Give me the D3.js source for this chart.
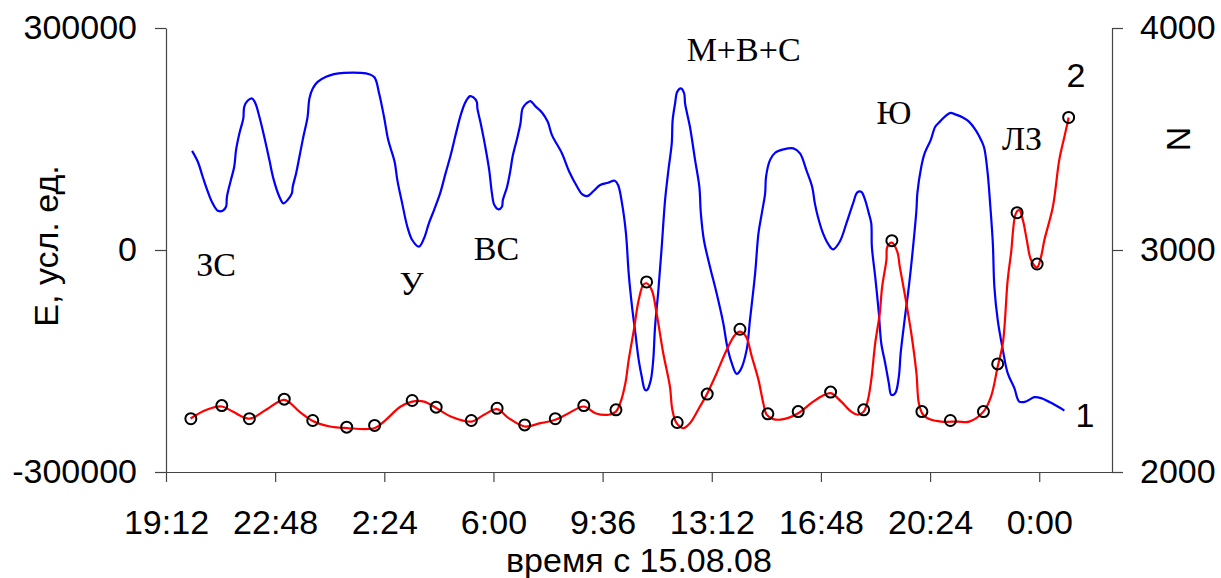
<!DOCTYPE html>
<html>
<head>
<meta charset="utf-8">
<script src="https://d3js.org/d3.v7.min.js"></script>
<style>
  body { margin: 0; background: #fff; }
</style>
</head>
<body>
<script>
// time = hours from 15.08.08 0:00

// curve 1 : E, conv. units (left axis)
var curveE = [
  [20.06,134000],[20.25,119200],[20.41,99000],[20.58,78700],[20.74,63000],[20.91,53100],
  [21.07,53100],[21.18,58500],[21.21,72000],[21.34,94500],[21.45,112500],[21.51,135000],
  [21.62,157500],[21.75,177800],[21.78,193500],[21.89,201600],[22.04,204800],[22.15,198000],
  [22.28,180000],[22.44,153000],[22.61,121500],[22.74,96800],[22.94,72000],[23.07,63000],
  [23.21,67500],[23.35,76500],[23.38,85500],[23.49,103500],[23.60,126000],[23.73,153000],
  [23.87,180000],[23.93,204800],[24.04,218300],[24.20,227200],[24.48,234000],[24.74,237600],
  [25.07,239400],[25.62,239400],[25.90,237600],[26.08,233100],[26.23,211500],[26.39,180000],
  [26.53,148500],[26.74,119200],[26.83,94500],[26.99,63000],[27.16,31500],[27.32,13500],
  [27.54,4500],[27.71,15800],[27.87,36000],[28.04,54000],[28.24,76500],[28.42,103500],
  [28.59,128300],[28.75,155300],[28.92,182300],[29.08,200200],[29.23,207900],[29.34,206100],
  [29.45,200200],[29.47,191300],[29.58,171000],[29.69,148500],[29.73,139500],[29.86,108000],
  [29.95,76500],[30.03,60800],[30.17,54900],[30.28,58500],[30.31,67500],[30.45,85500],
  [30.56,108000],[30.63,126000],[30.78,150800],[30.89,171000],[30.96,191300],[31.08,198000],
  [31.22,201200],[31.38,194400],[31.60,185900],[31.79,173200],[31.93,155300],[32.26,130500],
  [32.50,105700],[32.76,85500],[32.92,75600],[33.09,72900],[33.31,80100],[33.52,87800],
  [33.78,90900],[34.00,93600],[34.11,87800],[34.24,63000],[34.37,22500],[34.46,-31500],
  [34.57,-76500],[34.68,-112500],[34.79,-148500],[34.89,-171000],[35.00,-189000],[35.07,-189000],
  [35.19,-175500],[35.27,-148500],[35.33,-103500],[35.44,-54000],[35.55,4500],[35.66,67500],
  [35.77,108000],[35.88,144000],[35.91,175500],[35.99,198000],[36.06,213700],[36.18,218300],
  [36.29,211500],[36.32,198000],[36.48,166500],[36.65,121500],[36.79,85500],[36.84,49500],
  [36.94,13500],[37.14,-22500],[37.36,-58500],[37.58,-99000],[37.71,-130500],[37.86,-153000],
  [38.02,-167400],[38.15,-162000],[38.35,-135000],[38.46,-94500],[38.63,-31500],[38.74,22500],
  [38.85,49500],[38.96,76500],[38.99,99000],[39.12,121500],[39.29,131400],[39.56,135900],
  [39.89,137300],[40.11,130500],[40.32,108000],[40.51,85500],[40.60,63000],[40.70,45000],
  [40.87,22500],[41.06,6800],[41.20,900],[41.42,11200],[41.64,36000],[41.86,63000],
  [42.00,77900],[42.13,78700],[42.24,69800],[42.38,49500],[42.46,36000],[42.48,4500],
  [42.59,-36000],[42.71,-85500],[42.79,-126000],[42.92,-153000],[43.04,-180000],[43.12,-195800],
  [43.25,-193500],[43.37,-171000],[43.43,-139500],[43.56,-94500],[43.70,-49500],[43.84,4500],
  [43.95,54000],[43.98,76500],[44.11,112500],[44.22,130500],[44.42,148500],[44.57,166500],
  [44.72,173200],[44.88,180000],[45.08,185400],[45.21,183600],[45.48,179100],[45.69,173200],
  [45.92,161100],[46.11,146200],[46.19,137300],[46.30,103500],[46.38,63000],[46.47,9000],
  [46.52,-49500],[46.63,-94500],[46.80,-135000],[46.96,-166500],[47.18,-186700],[47.34,-204800],
  [47.56,-204800],[47.84,-198900],[48.06,-200200],[48.45,-207900],[48.83,-217000]
];

// curve 2 : N (right axis), line
var curveN = [
  [20.01,2241],[20.54,2280],[21.04,2295],[21.40,2272],[21.95,2240],[22.50,2280],[23.10,2325],
  [23.60,2272],[24.04,2230],[24.61,2205],[25.16,2198],[26.09,2198],[26.45,2235],[26.94,2295],
  [27.32,2317],[27.71,2317],[28.11,2288],[28.59,2250],[29.27,2227],[29.69,2258],[30.12,2283],
  [30.50,2243],[31.03,2205],[31.55,2220],[32.04,2235],[32.48,2265],[32.98,2295],[33.36,2265],
  [33.80,2258],[34.04,2272],[34.18,2310],[34.35,2400],[34.46,2505],[34.63,2640],[34.79,2775],
  [34.94,2843],[35.05,2850],[35.22,2820],[35.38,2715],[35.60,2535],[35.82,2385],[35.90,2280],
  [36.04,2220],[36.26,2198],[36.48,2220],[36.81,2295],[37.03,2348],[37.36,2445],[37.69,2550],
  [37.97,2618],[38.13,2632],[38.33,2610],[38.52,2520],[38.74,2415],[38.90,2310],[39.01,2258],
  [39.23,2238],[39.56,2238],[40.05,2265],[40.48,2310],[40.81,2340],[41.12,2355],[41.47,2317],
  [41.80,2272],[42.02,2258],[42.21,2272],[42.35,2325],[42.46,2415],[42.59,2580],[42.74,2715],
  [42.82,2835],[42.96,2955],[42.99,3015],[43.14,3033],[43.32,2992],[43.40,2925],[43.56,2805],
  [43.78,2625],[43.95,2445],[44.03,2310],[44.17,2258],[44.44,2235],[44.77,2227],[45.32,2227],
  [45.69,2227],[46.16,2272],[46.41,2340],[46.63,2475],[46.80,2580],[46.96,2865],[47.07,2985],
  [47.23,3165],[47.34,3180],[47.46,3135],[47.59,3045],[47.73,2955],[47.93,2922],[48.06,2970],
  [48.17,3045],[48.45,3195],[48.66,3405],[48.83,3510],[48.94,3577],[48.97,3597]
];

// curve 2 : N, measured points (circles)
var pointsN = [
  [20.02,2240],[21.04,2299],[21.95,2240],[23.10,2328],[24.04,2232],[25.16,2202],[26.08,2210],
  [27.32,2322],[28.11,2292],[29.27,2232],[30.12,2287],[31.03,2212],[32.04,2240],[32.98,2299],
  [34.04,2280],[35.05,2856],[36.06,2223],[37.05,2351],[38.13,2643],[39.05,2262],[40.05,2272],
  [41.12,2360],[42.21,2280],[43.14,3042],[44.13,2272],[45.07,2232],[46.16,2272],[46.63,2487],
  [47.27,3168],[47.93,2937],[48.97,3597]
];

// axis ticks
var timeTicks = [19.2, 22.8, 26.4, 30, 33.6, 37.2, 40.8, 44.4, 48];
var eTicks = [-300000, 0, 300000];
var nTicks = [2000, 3000, 4000];

// labels in the plot: [text, time, E]
var sectorLabels = [
  ["ЗС", 20.85, -35100],
  ["У", 27.30, -60750],
  ["ВС", 30.10, -13500],
  ["М+В+С", 38.25, 255150],
  ["Ю", 43.21, 170100],
  ["ЛЗ", 47.43, 135000]
];
var curveLabels = [
  ["2", 49.21, 220000],
  ["1", 49.51, -239000]
];

var W = 1221, H = 578;
var plotL = 166, plotR = 1112, plotT = 28, plotB = 472;

var svg = d3.select("body").append("svg")
  .attr("width", W)
  .attr("height", H);

var x = d3.scaleLinear().domain([19.2, 50.4]).range([plotL, plotR]);
var yE = d3.scaleLinear().domain([-300000, 300000]).range([plotB, plotT]);
var yN = d3.scaleLinear().domain([2000, 4000]).range([plotB, plotT]);

function fmtTime(h) {
  var m = Math.round(h * 60) % (24 * 60);
  var hh = Math.floor(m / 60), mm = m % 60;
  return hh + ":" + (mm < 10 ? "0" : "") + mm;
}

var sans = "'Liberation Sans', Arial, sans-serif";
var serif = "'Liberation Serif', 'Times New Roman', serif";
var axisColor = "#444";

//AXES
var gx = svg.append("g")
  .attr("transform", "translate(0," + plotB + ")")
  .call(d3.axisBottom(x).tickValues(timeTicks).tickFormat(fmtTime)
    .tickSize(10).tickSizeOuter(0).tickPadding(28));

var gl = svg.append("g")
  .attr("transform", "translate(" + plotL + ",0)")
  .call(d3.axisLeft(yE).tickValues(eTicks).tickFormat(function(d) { return String(d); })
    .tickSize(11).tickSizeOuter(0).tickPadding(18));

var gr = svg.append("g")
  .attr("transform", "translate(" + plotR + ",0)")
  .call(d3.axisRight(yN).tickValues(nTicks).tickFormat(function(d) { return String(d); })
    .tickSize(11).tickSizeOuter(0).tickPadding(17));

[gx, gl, gr].forEach(function(g) {
  g.selectAll("path, line").attr("stroke", axisColor).attr("stroke-width", 1.2);
  g.selectAll("text")
    .attr("font-family", sans)
    .attr("font-size", 34)
    .attr("fill", "#000");
});

//AXIS TITLES
svg.append("text")
  .attr("transform", "translate(58,246) rotate(-90)")
  .attr("text-anchor", "middle")
  .attr("font-family", sans)
  .attr("font-size", 34)
  .text("Е, усл. ед.");

svg.append("text")
  .attr("transform", "translate(1190,139) rotate(-90)")
  .attr("text-anchor", "middle")
  .attr("font-family", sans)
  .attr("font-size", 34)
  .text("N");

svg.append("text")
  .attr("x", (plotL + plotR) / 2)
  .attr("y", 572)
  .attr("text-anchor", "middle")
  .attr("font-family", sans)
  .attr("font-size", 34)
  .text("время с 15.08.08");

//CURVES (smoothed like the original)
var lineE = d3.line()
  .curve(d3.curveCatmullRom.alpha(0.5))
  .x(function(d) { return x(d[0]); })
  .y(function(d) { return yE(d[1]); });

var lineN = d3.line()
  .curve(d3.curveCatmullRom.alpha(0.5))
  .x(function(d) { return x(d[0]); })
  .y(function(d) { return yN(d[1]); });

svg.append("path")
  .datum(curveE)
  .attr("d", lineE)
  .attr("fill", "none")
  .attr("stroke", "#0000ff")
  .attr("stroke-width", 2.2)
  .attr("stroke-linejoin", "round");

svg.append("path")
  .datum(curveN)
  .attr("d", lineN)
  .attr("fill", "none")
  .attr("stroke", "#ff0000")
  .attr("stroke-width", 2.2)
  .attr("stroke-linejoin", "round");

svg.selectAll("circle.pt")
  .data(pointsN)
  .enter().append("circle")
  .attr("class", "pt")
  .attr("cx", function(d) { return x(d[0]); })
  .attr("cy", function(d) { return yN(d[1]); })
  .attr("r", 5.5)
  .attr("fill", "none")
  .attr("stroke", "#000")
  .attr("stroke-width", 2);

//LABELS
svg.selectAll("text.sector")
  .data(sectorLabels)
  .enter().append("text")
  .attr("class", "sector")
  .attr("x", function(d) { return x(d[1]); })
  .attr("y", function(d) { return yE(d[2]); })
  .attr("text-anchor", "middle")
  .attr("font-family", serif)
  .attr("font-size", 34)
  .text(function(d) { return d[0]; });

svg.selectAll("text.curve")
  .data(curveLabels)
  .enter().append("text")
  .attr("class", "curve")
  .attr("x", function(d) { return x(d[1]); })
  .attr("y", function(d) { return yE(d[2]); })
  .attr("text-anchor", "middle")
  .attr("font-family", sans)
  .attr("font-size", 34)
  .text(function(d) { return d[0]; });
</script>
</body>
</html>
